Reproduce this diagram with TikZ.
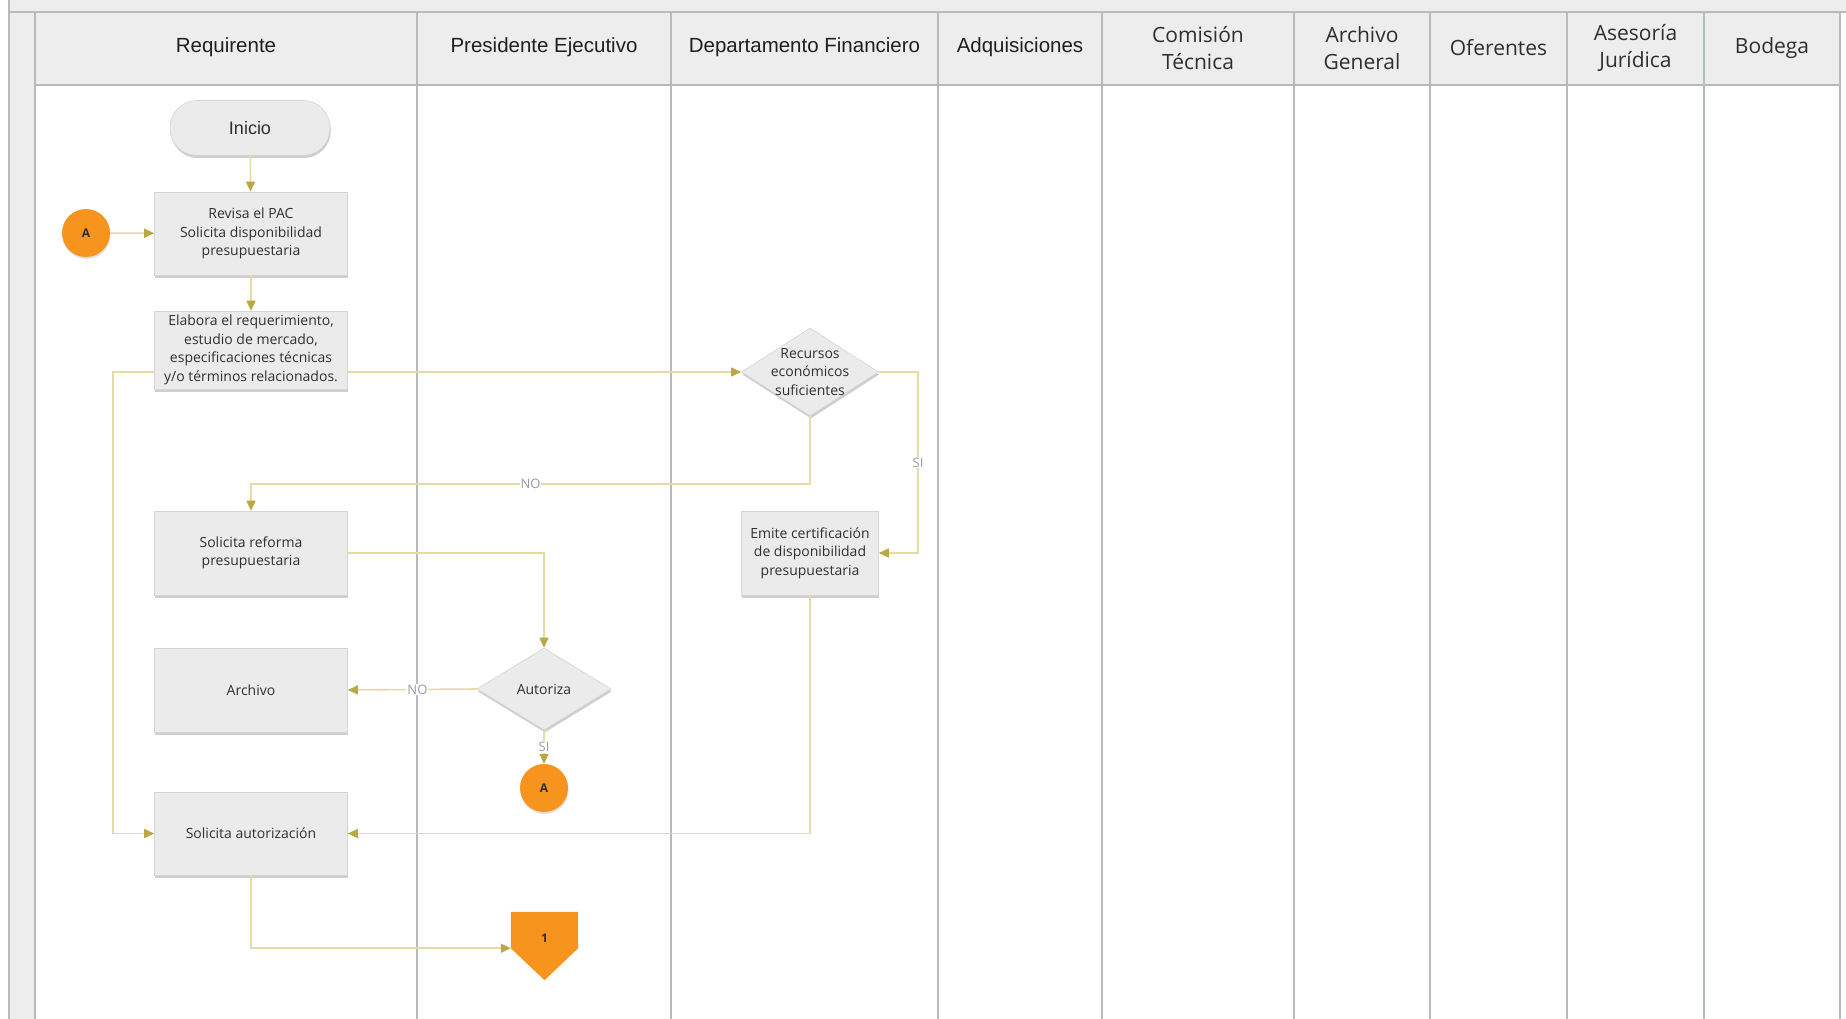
\documentclass[tikz,border=0pt]{standalone}
\usepackage{fontspec}
\setmainfont{Open Sans}
\newfontfamily\arialf{Liberation Sans}
\usetikzlibrary{shapes.geometric,arrows.meta,shadows,calc}
\definecolor{lanec}{HTML}{B5BCC0}
\definecolor{bandc}{HTML}{EDEDED}
\definecolor{boxc}{HTML}{EBEBEB}
\definecolor{boxline}{HTML}{D4D4D4}
\definecolor{connc}{HTML}{E6DBA2}
\definecolor{tipc}{HTML}{B9A843}
\definecolor{orng}{HTML}{F7941D}
\definecolor{txtc}{HTML}{303030}
\definecolor{lblc}{HTML}{9A9A9A}
\begin{document}
\begin{tikzpicture}[x=1pt,y=-1pt,
  boxshadow/.style={drop shadow={shadow xshift=0.8pt,shadow yshift=-2.5pt,fill=black!35,opacity=0.55}},
  procbox/.style={draw=boxline,line width=0.6pt,fill=boxc,minimum width=193pt,minimum height=84pt,
    inner sep=2pt,align=center,text=txtc,font=\fontsize{14}{18.5}\selectfont,boxshadow},
  dia/.style={diamond,draw=boxline,line width=0.6pt,fill=boxc,inner sep=0pt,boxshadow},
  diatext/.style={align=center,text=txtc,font=\fontsize{14}{18.5}\selectfont,inner sep=0pt},
  circ/.style={circle,fill=orng,minimum size=48pt,inner sep=0pt,text=txtc,
    font=\fontsize{12}{14}\selectfont\bfseries,drop shadow={shadow xshift=0.5pt,shadow yshift=-2pt,fill=black!25,opacity=0.5}},
  cn/.style={draw=connc,line width=1.6pt,-{Triangle[length=10pt,width=9pt,color=tipc]}},
  lbl/.style={fill=white,inner sep=1pt,text=lblc,font=\fontsize{13}{15}\selectfont},
  hdA/.style={font=\arialf\fontsize{20.5}{25}\selectfont,text=black!88,align=center},
  hdB/.style={font=\fontsize{21}{27}\selectfont,text=black!82,align=center},
  lane/.style={draw=lanec,line width=1.6pt}
]
\useasboundingbox (0,0) rectangle (1846,1019);
% background bands
\fill[bandc] (9,0) rectangle (1846,12);
\fill[bandc] (9,12) rectangle (35,1019);
\fill[bandc] (35,12) rectangle (1840,85);
\draw[lane] (9,0) -- (9,1019);
\draw[lane] (9,12) -- (1846,12);
\draw[lane] (35,12) -- (35,1019);
\draw[draw=black!28,line width=2.2pt] (35,85) -- (1840,85);
\foreach \x in {417,671,938,1102,1294,1430,1567,1704,1840}
  \draw[lane] (\x,12) -- (\x,1019);
% headers
\node[hdA] (h1) at (226,47) {Requirente};
\node[hdA] (h2) at (544,47) {Presidente Ejecutivo};
\node[hdA] (h3) at (804.5,47) {Departamento Financiero};
\node[hdA] (h4) at (1020,47) {Adquisiciones};
\node[hdB] (h5) at (1198,48) {Comisión\\Técnica};
\node[hdB] (h6) at (1362,48) {Archivo\\General};
\node[hdB] (h7) at (1498.5,48) {Oferentes};
\node[hdB] (h8) at (1635.5,48) {Asesoría\\Jurídica};
\node[hdB] (h9) at (1772,48) {Bodega};
% nodes
\node[draw=boxline,line width=0.6pt,fill=boxc,rounded corners=27pt,minimum width=160pt,minimum height=55pt,
  font=\arialf\fontsize{18}{20}\selectfont,text=txtc,boxshadow] (ini) at (250,128) {Inicio};
\node[circ] (a1) at (86,233) {A};
\node[procbox,minimum height=83pt] (rev) at (251,233.5) {Revisa el PAC\\Solicita disponibilidad\\presupuestaria};
\node[procbox,minimum height=78pt] (ela) at (251,350) {Elabora el requerimiento,\\estudio de mercado,\\especificaciones técnicas\\y/o términos relacionados.};
\node[dia,minimum width=137pt,minimum height=88pt] (rec) at (810,372) {};
\node[diatext] (rect) at (rec) {Recursos\\económicos\\suficientes};
\node[procbox,minimum width=137pt] (emi) at (810,553) {Emite certificación\\de disponibilidad\\presupuestaria};
\node[procbox] (ref) at (251,553) {Solicita reforma\\presupuestaria};
\node[procbox] (arc) at (251,690) {Archivo};
\node[dia,minimum width=134pt,minimum height=82pt] (aut) at (544,689) {};
\node[diatext] (autt) at (aut) {Autoriza};
\node[circ] (a2) at (544,788) {A};
\node[procbox,minimum height=83pt] (sau) at (251,833.5) {Solicita autorización};
\node[minimum width=67pt,minimum height=36pt,inner sep=0pt] (off) at (544.5,930) {};
\fill[orng] (off.north west) -- (off.north east) -- (off.south east) -- ($(off.south)+(0,32)$) -- (off.south west) -- cycle;
\node[text=txtc,font=\fontsize{12}{14}\selectfont\bfseries] (offt) at (544.5,938) {1};
% helper coordinates
\coordinate (lx) at (113,0);
\coordinate (noy) at (0,484);
\coordinate (sx) at (918,0);
% connectors
\draw[cn] (ini) -- (rev);
\draw[cn] (a1) -- (rev);
\draw[cn] (rev) -- (ela);
\draw[cn] (ela.east |- rec) -- (rec.west);
\draw[cn] (ela.west |- rec) -- (lx |- rec) -- (lx |- sau) -- (sau.west);
\draw[cn] (rec.south) -- (rec.south |- noy) -- node[lbl]{NO} (ref.north |- noy) -- (ref.north);
\draw[cn] (rec.east) -- (sx |- rec) -- node[lbl]{SI} (sx |- emi) -- (emi.east);
\draw[cn] (ref.east) -- (aut.north |- ref) -- (aut.north);
\draw[cn] (aut.west) -- node[lbl,pos=0.46]{NO} (arc.east);
\draw[cn] (aut.south) -- node[lbl]{SI} (a2.north);
\draw[cn] (emi.south) -- (emi.south |- sau) -- (sau.east);
\draw[cn] (sau.south) -- (sau.south |- off.south west) -- (off.south west);
\end{tikzpicture}
\end{document}
